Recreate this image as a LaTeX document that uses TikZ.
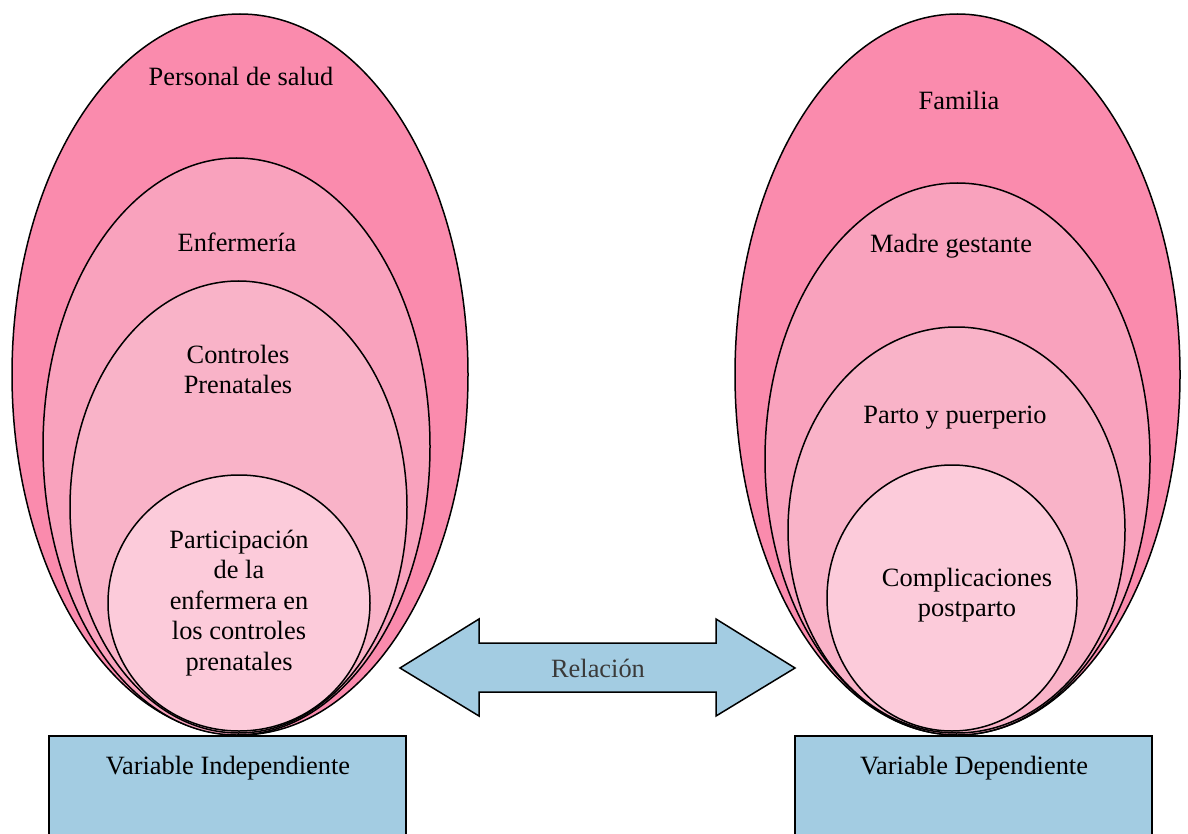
\documentclass[tikz,border=0pt]{standalone}
\usepackage{fontspec}
\setmainfont{Liberation Serif}
\definecolor{pinkA}{HTML}{FA8BAD}
\definecolor{pinkB}{HTML}{F9A2BD}
\definecolor{pinkC}{HTML}{F9B3C8}
\definecolor{pinkD}{HTML}{FCCBDA}
\definecolor{boxblue}{HTML}{A3CCE2}
\definecolor{relgray}{HTML}{3A3A3A}
\begin{document}
\begin{tikzpicture}[x=1pt,y=-1pt,
  ring/.style={draw=black,line width=1.5pt},
  lbl/.style={font=\fontsize{26.4}{30.5}\selectfont,align=center,text=black,inner sep=0pt},
  varbox/.style={draw=black,line width=1.5pt,fill=boxblue}]
\useasboundingbox (0,0) rectangle (1188,834);
\clip (0,0) rectangle (1188,834);
% boxes
\path[varbox] (49,736) rectangle (406,850);
\path[varbox] (795,736) rectangle (1152,850);
\node[lbl,anchor=base] (vi) at (228,774) {Variable Independiente};
\node[lbl,anchor=base] (vd) at (974,774) {Variable Dependiente};
% left ellipses
\path[ring,fill=pinkA] (240,374.5) ellipse [x radius=228,y radius=360.5];
\path[ring,fill=pinkB] (236.5,446.5) ellipse [x radius=193.5,y radius=288.5];
\path[ring,fill=pinkC] (238.5,507) ellipse [x radius=168.5,y radius=226];
\path[ring,fill=pinkD] (239,603) ellipse [x radius=131,y radius=128];
% right ellipses
\path[ring,fill=pinkA] (957.5,374.5) ellipse [x radius=222.5,y radius=360.5];
\path[ring,fill=pinkB] (957.5,459) ellipse [x radius=192.5,y radius=276];
\path[ring,fill=pinkC] (956.5,530) ellipse [x radius=168.5,y radius=203];
\path[ring,fill=pinkD] (952,598) ellipse [x radius=125,y radius=133];
% left labels (multi-line nodes: base = baseline of last line)
\node[lbl,anchor=base] (ps) at (241,86) {Personal de salud};
\node[lbl,anchor=base] (enf) at (237,252) {Enfermería};
\node[lbl,anchor=base] (cp) at (238,393.5) {Controles\\Prenatales};
\node[lbl,anchor=base] (part) at (239,670) {Participación\\de la\\enfermera en\\los controles\\prenatales};
% right labels
\node[lbl,anchor=base] (fam) at (959,110) {Familia};
\node[lbl,anchor=base] (mg) at (951,253) {Madre gestante};
\node[lbl,anchor=base] (pp) at (955,423) {Parto y puerperio};
\node[lbl,anchor=base] (cpp) at (967,616.5) {Complicaciones\\postparto};
% double arrow
\path[draw=black,line width=1.5pt,fill=boxblue,line join=miter]
  (400,668) -- (479,619) -- (479,643) -- (716,643) -- (716,619) -- (795,668)
  -- (716,716) -- (716,692) -- (479,692) -- (479,716) -- cycle;
\node[lbl,text=relgray,anchor=base] (rel) at (598,677) {Relación};
\end{tikzpicture}
\end{document}
